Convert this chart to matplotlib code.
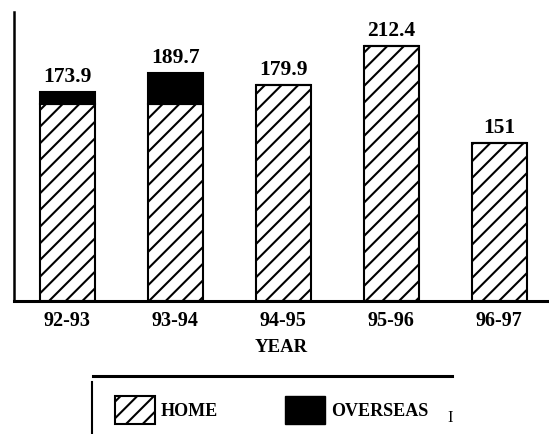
import matplotlib
matplotlib.use("Agg")
import matplotlib.pyplot as plt
from matplotlib.patches import Patch
from matplotlib.lines import Line2D

# data
years = ["92-93", "93-94", "94-95", "95-96", "96-97"]
home = [164.0, 164.0, 179.9, 212.4, 131.7]
overseas = [9.9, 25.7, 0.0, 0.0, 0.0]
totals = ["173.9", "189.7", "179.9", "212.4", "151"]

plt.rcParams['font.family'] = ['Liberation Serif', 'DejaVu Serif']
plt.rcParams['font.weight'] = 'bold'
plt.rcParams['hatch.linewidth'] = 1.5

W, H = 549, 434
fig = plt.figure(figsize=(W / 100, H / 100), dpi=100)
ax = fig.add_axes([14 / W, 1 - 301 / H, 1 - 14 / W, (301 - 12) / H])

x = range(len(years))
ax.bar(x, home, width=0.51, color='white', edgecolor='black', hatch='//', linewidth=1.5)
ax.bar(x, overseas, width=0.51, bottom=home, color='black', edgecolor='black', linewidth=1.5)

for i, lab in enumerate(totals):
    top = home[i] + overseas[i]
    ax.annotate(lab, (i, top), xytext=(0, 3.5), textcoords='offset points',
                ha='center', va='bottom', fontsize=15.5, fontweight='bold')

ax.set_xlim(-0.495, 4.46)
ax.set_ylim(0, 240.7)
ax.set_xticks(list(x))
ax.set_xticklabels(years, fontsize=14.5, fontweight='bold')
ax.tick_params(axis='x', length=0, pad=7)
ax.set_yticks([])
ax.set_xlabel('YEAR', fontsize=13.5, fontweight='bold', labelpad=6)
ax.spines['top'].set_visible(False)
ax.spines['right'].set_visible(False)
ax.spines['left'].set_linewidth(1.8)
ax.spines['bottom'].set_linewidth(2.2)

# legend with its partial frame
handles = [Patch(facecolor='white', edgecolor='black', hatch='//', linewidth=1.5, label='HOME'),
           Patch(facecolor='black', edgecolor='black', label='OVERSEAS')]
fig.legend(handles=handles, loc='center left', bbox_to_anchor=(115 / W, 1 - 410 / H),
           ncol=2, frameon=False, borderpad=0, borderaxespad=0,
           prop={'family': 'Liberation Serif', 'weight': 'bold', 'size': 13},
           handlelength=2.2, handleheight=2.0, handletextpad=0.35, columnspacing=3.7)
fig.add_artist(Line2D([93 / W, 452 / W], [1 - 376 / H, 1 - 376 / H], color='black', linewidth=2.2))
fig.add_artist(Line2D([92 / W, 92 / W], [1 - 382 / H, 0], color='black', linewidth=1.5))
fig.text(450 / W, 1 - 418 / H, 'I', fontsize=12, fontweight='normal', ha='center', va='center')

fig.savefig('out.png', dpi=100)
